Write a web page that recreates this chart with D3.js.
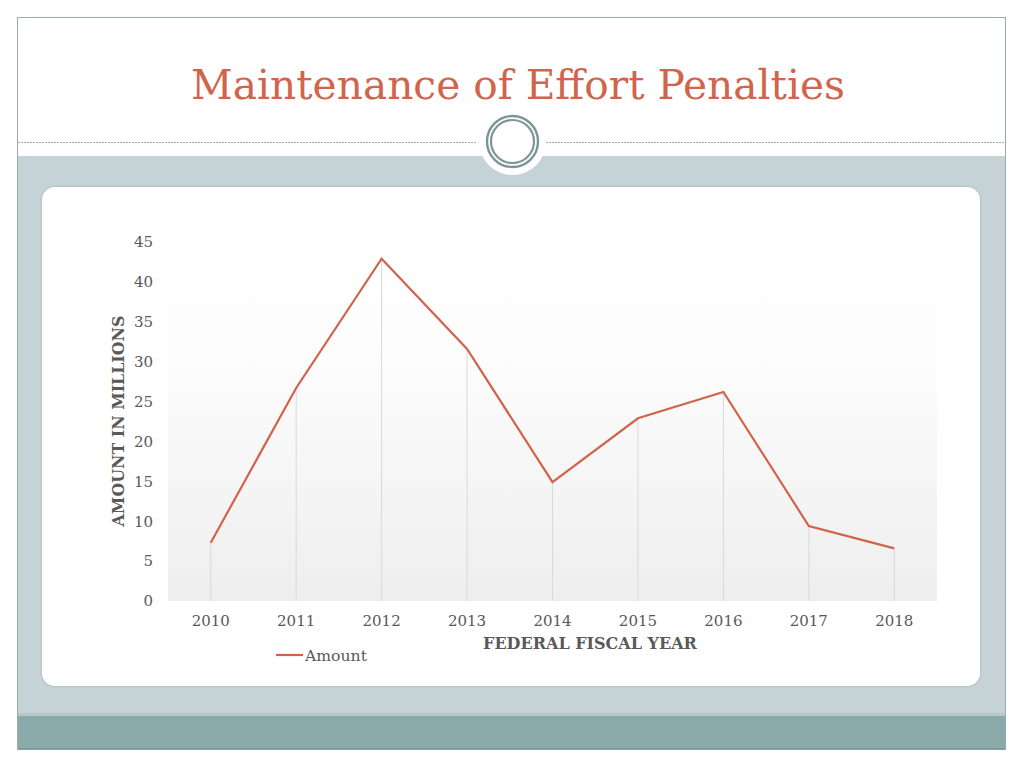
<!DOCTYPE html>
<html>
<head>
<meta charset="utf-8">
<script src="https://cdn.jsdelivr.net/npm/d3@7"></script>
<style>
  html, body { margin: 0; padding: 0; background: #ffffff; }
  svg { display: block; }
</style>
</head>
<body>
<svg id="chart" width="1024" height="768"></svg>
<script>
// ---- Data ----
const years = ["2010", "2011", "2012", "2013", "2014", "2015", "2016", "2017", "2018"];
const amounts = [7.3, 26.7, 42.9, 31.6, 14.9, 22.9, 26.2, 9.4, 6.6];
const yTicks = [0, 5, 10, 15, 20, 25, 30, 35, 40, 45];
const seriesName = "Amount";
const titleText = "Maintenance of Effort Penalties";
const yAxisTitle = "AMOUNT IN MILLIONS";
const xAxisTitle = "FEDERAL FISCAL YEAR";

const svg = d3.select("#chart");
const serif = "Georgia, 'DejaVu Serif', 'Liberation Serif', serif";
const lineColor = "#d0634a";
const textGray = "#595959";

// scale a text's font size so that it spans the given width
function fitWidth(sel, base, target) {
  sel.attr("font-size", base);
  const w = sel.node().getComputedTextLength();
  sel.attr("font-size", base * target / w);
  return sel;
}

// ---- Slide background ----
const defs = svg.append("defs");
const grad = defs.append("linearGradient").attr("id", "plotGrad")
  .attr("x1", 0).attr("y1", 0).attr("x2", 0).attr("y2", 1);
grad.append("stop").attr("offset", "0%").attr("stop-color", "#ffffff");
grad.append("stop").attr("offset", "35%").attr("stop-color", "#fcfcfc");
grad.append("stop").attr("offset", "100%").attr("stop-color", "#eeeeee");

const shadow = defs.append("filter").attr("id", "cardShadow")
  .attr("x", "-5%").attr("y", "-5%").attr("width", "110%").attr("height", "110%");
shadow.append("feDropShadow").attr("dx", 0).attr("dy", 0).attr("stdDeviation", 1)
  .attr("flood-color", "#7f8f92").attr("flood-opacity", 0.6);

// outer frame
svg.append("rect").attr("x", 17.5).attr("y", 17.5).attr("width", 988).attr("height", 732)
  .attr("fill", "#ffffff").attr("stroke", "#9aabab").attr("stroke-width", 1);
// blue-gray band
svg.append("rect").attr("x", 18).attr("y", 156).attr("width", 987).attr("height", 559)
  .attr("fill", "#c5d2d6");
// teal band
svg.append("rect").attr("x", 18).attr("y", 713).attr("width", 987).attr("height", 3)
  .attr("fill", "#b7c6c8");
svg.append("rect").attr("x", 18).attr("y", 716).attr("width", 987).attr("height", 33)
  .attr("fill", "#8aa9a9");
svg.append("rect").attr("x", 18).attr("y", 748).attr("width", 987).attr("height", 1.5)
  .attr("fill", "#7e9a9a");

// dashed separator
svg.append("line").attr("x1", 18).attr("x2", 477).attr("y1", 142.5).attr("y2", 142.5)
  .attr("stroke", "#a9a9a9").attr("stroke-width", 1).attr("stroke-dasharray", "2,1");
svg.append("line").attr("x1", 546).attr("x2", 1005).attr("y1", 142.5).attr("y2", 142.5)
  .attr("stroke", "#a9a9a9").attr("stroke-width", 1).attr("stroke-dasharray", "2,1");

// circle ornament
svg.append("circle").attr("cx", 512.5).attr("cy", 141.5).attr("r", 33.5).attr("fill", "#ffffff");
svg.append("circle").attr("cx", 512.5).attr("cy", 141.5).attr("r", 25.5)
  .attr("fill", "none").attr("stroke", "#7d9595").attr("stroke-width", 2.4);
svg.append("circle").attr("cx", 512.5).attr("cy", 141.5).attr("r", 21.5)
  .attr("fill", "#ffffff").attr("stroke", "#7d9595").attr("stroke-width", 2.2);

// title
const title = svg.append("text").attr("x", 518).attr("y", 99)
  .attr("text-anchor", "middle")
  .attr("font-family", serif).attr("fill", "#d0654b")
  .text(titleText);
fitWidth(title, 40, 654);

// card
svg.append("rect").attr("x", 42).attr("y", 187).attr("width", 938).attr("height", 499)
  .attr("rx", 13).attr("ry", 13).attr("fill", "#ffffff").attr("filter", "url(#cardShadow)");

// ---- Chart ----
const plot = { left: 168, right: 937, top: 242, bottom: 601 };

const x = d3.scaleBand().domain(years).range([plot.left, plot.right]).paddingInner(0).paddingOuter(0);
const y = d3.scaleLinear().domain([0, 45]).range([plot.bottom, plot.top]);

// plot area gradient
svg.append("rect").attr("x", plot.left).attr("y", y(45)).attr("width", plot.right - plot.left)
  .attr("height", plot.bottom - y(45)).attr("fill", "url(#plotGrad)");

const cx = d => x(d) + x.bandwidth() / 2;

// drop lines
svg.append("g").selectAll("line").data(years).join("line")
  .attr("x1", d => cx(d)).attr("x2", d => cx(d))
  .attr("y1", (d, i) => y(amounts[i])).attr("y2", plot.bottom)
  .attr("stroke", "#d9d9d9").attr("stroke-width", 1);

// y axis
const yAxis = d3.axisLeft(y).tickValues(yTicks).tickSize(0).tickPadding(0);
const gy = svg.append("g").attr("transform", `translate(153,0)`).call(yAxis);
gy.select(".domain").remove();
gy.selectAll("text").attr("font-family", serif).attr("font-size", 15)
  .attr("fill", textGray).attr("dy", "0.32em");

// x axis
const xAxis = d3.axisBottom(x).tickSize(0).tickPadding(0);
const gx = svg.append("g").attr("transform", `translate(0,${plot.bottom})`).call(xAxis);
gx.select(".domain").remove();
gx.selectAll("text").attr("font-family", serif).attr("font-size", 15)
  .attr("fill", textGray).attr("dy", 0).attr("y", 25);

// line
const line = d3.line().x((d, i) => cx(years[i])).y(d => y(d));
svg.append("path").datum(amounts).attr("d", line)
  .attr("fill", "none").attr("stroke", lineColor).attr("stroke-width", 2.2)
  .attr("stroke-linejoin", "miter");

// axis titles
const yt = svg.append("text").attr("transform", "translate(124,421) rotate(-90)")
  .attr("text-anchor", "middle").attr("font-family", serif).attr("font-weight", "bold")
  .attr("fill", textGray).text(yAxisTitle);
fitWidth(yt, 15, 211);
const xt = svg.append("text").attr("x", 590).attr("y", 649)
  .attr("text-anchor", "middle").attr("font-family", serif).attr("font-weight", "bold")
  .attr("fill", textGray).text(xAxisTitle);
fitWidth(xt, 15, 214);

// legend
svg.append("line").attr("x1", 276).attr("x2", 303).attr("y1", 655).attr("y2", 655)
  .attr("stroke", lineColor).attr("stroke-width", 2.2);
const lt = svg.append("text").attr("x", 305).attr("y", 660.5)
  .attr("font-family", serif).attr("fill", textGray).text(seriesName);
fitWidth(lt, 15, 62);
</script>
</body>
</html>
